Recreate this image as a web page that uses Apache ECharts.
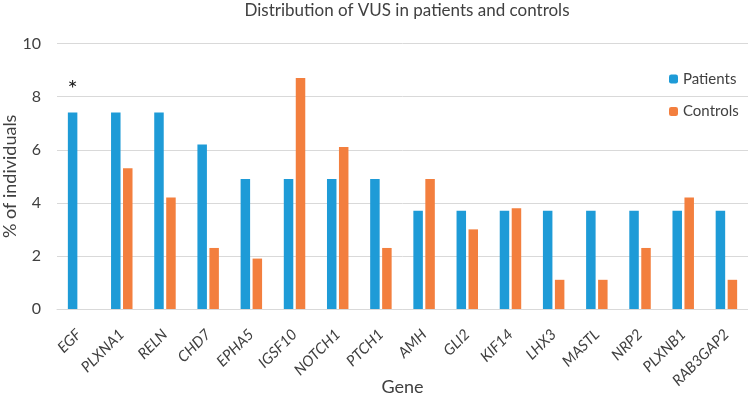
<!DOCTYPE html>
<html><head><meta charset="utf-8">
<script src="https://cdn.jsdelivr.net/npm/echarts@6/dist/echarts.min.js"></script>
<style>html,body{margin:0;padding:0;background:#fff}#c{width:748px;height:411px}</style>
</head><body><div id="c"></div>
<script>
const genes = ['EGF','PLXNA1','RELN','CHD7','EPHA5','IGSF10','NOTCH1','PTCH1','AMH','GLI2','KIF14','LHX3','MASTL','NRP2','PLXNB1','RAB3GAP2'];
const patients = [7.4,7.4,7.4,6.2,4.9,4.9,4.9,4.9,3.7,3.7,3.7,3.7,3.7,3.7,3.7,3.7];
const controls = [0,5.3,4.2,2.3,1.9,8.7,6.1,2.3,4.9,3.0,3.8,1.1,1.1,2.3,4.2,1.1];
const yTicks = [0,2,4,6,8,10];
const marks = {EGF:'*'};

const font = 'Lato, "Open Sans", sans-serif';
const chart = echarts.init(document.getElementById('c'), null, {renderer:'canvas'});
chart.setOption({
  animation:false,
  textStyle:{fontFamily:font},
  title:{text:'Distribution of VUS in patients and controls', left:402, textAlign:'center', top:0, padding:[2,5,2,5],
    textStyle:{fontSize:17, fontWeight:'normal', color:'#404040', fontFamily:font}},
  legend:{orient:'vertical', left:669, top:71.5, padding:0, itemWidth:9, itemHeight:9, itemGap:17.5,
    textStyle:{fontSize:15, color:'#404040', fontFamily:font},
    data:['Patients','Controls']},
  grid:{left:57, right:0, top:43.6, bottom:102, containLabel:false, outerBoundsMode:'none'},
  xAxis:{type:'category', data:genes, name:'Gene', nameLocation:'middle', nameGap:69, nameMoveOverlap:false,
    nameTextStyle:{fontSize:18, color:'#404040'},
    axisLine:{lineStyle:{color:'#d9d9d9'}}, axisTick:{show:false},
    axisLabel:{rotate:45, fontStyle:'italic', fontSize:15, color:'#404040', interval:0, margin:23}},
  yAxis:{type:'value', min:yTicks[0], max:yTicks[yTicks.length-1], interval:2,
    name:'% of individuals', nameLocation:'middle', nameGap:38, nameMoveOverlap:false,
    nameTextStyle:{fontSize:18, color:'#404040'},
    axisLine:{show:false}, axisTick:{show:false},
    axisLabel:{fontSize:16, color:'#404040', margin:16},
    splitLine:{lineStyle:{color:'#d9d9d9', width:1}}},
  series:[
    {name:'Patients', type:'bar', barWidth:'22%', barGap:'26%', itemStyle:{color:'#1E9BD7'},
     data:patients.map((v,i)=>marks[genes[i]]?{value:v,label:{show:true,position:'top',distance:11,formatter:marks[genes[i]],fontSize:24,color:'#222'}}:v)},
    {name:'Controls', type:'bar', barWidth:'22%', itemStyle:{color:'#F37F3E'}, data:controls}
  ]
});
</script></body></html>
